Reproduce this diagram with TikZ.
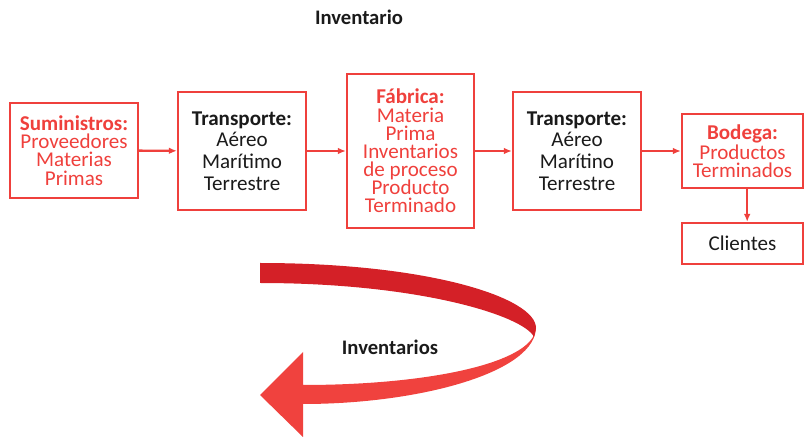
\documentclass[tikz,border=0pt]{standalone}
\usepackage{fontspec}
\setmainfont{Carlito}
\usetikzlibrary{arrows.meta}
\definecolor{boxred}{RGB}{239,64,60}
\definecolor{ribbondark}{RGB}{212,32,39}
\definecolor{ribbonlight}{RGB}{240,66,62}
\definecolor{textblack}{RGB}{26,26,26}

\begin{document}
\begin{tikzpicture}[x=0.75pt,y=0.75pt,yscale=-1,xscale=1,
    redbox/.style={draw=boxred, line width=1.7pt, align=center, inner sep=0pt, text=boxred,
        font=\fontsize{15.8}{13.6}\selectfont},
    blackbox/.style={draw=boxred, line width=1.7pt, align=center, inner sep=0pt, text=textblack,
        font=\fontsize{15.8}{16.2}\selectfont},
    flow/.style={draw=boxred, line width=1.8pt, -{Latex[length=6pt,width=5pt]}}]
        \useasboundingbox (0,0) rectangle (804,438);

        % Text Node
        \node (title) at (359,17) [text=textblack, font=\fontsize{15.5}{18}\selectfont\bfseries] {Inventario};

        %Shape: Rectangle [id:suministros]
        \node (sum) at (74,150.5) [redbox, minimum width=96pt, minimum height=71.25pt]
            {\textbf{Suministros:}\\Proveedores\\Materias\\Primas};
        %Shape: Rectangle [id:transporte1]
        \node (tr1) at (242,151) [blackbox, minimum width=96pt, minimum height=88.5pt]
            {\textbf{Transporte:}\\Aéreo\\Marítimo\\Terrestre};
        %Shape: Rectangle [id:fabrica]
        \node (fab) at (410.5,151) [redbox, minimum width=95.25pt, minimum height=115.5pt]
            {\textbf{Fábrica:}\\Materia\\Prima\\Inventarios\\de proceso\\Producto\\Terminado};
        %Shape: Rectangle [id:transporte2]
        \node (tr2) at (577,151) [blackbox, minimum width=96pt, minimum height=88.5pt]
            {\textbf{Transporte:}\\Aéreo\\Marítino\\Terrestre};
        %Shape: Rectangle [id:bodega]
        \node (bod) at (742.5,151) [redbox, minimum width=90.75pt, minimum height=55.5pt]
            {\textbf{Bodega:}\\Productos\\Terminados};
        %Shape: Rectangle [id:clientes]
        \node (cli) at (742.5,243.5) [blackbox, minimum width=90.75pt, minimum height=30.75pt]
            {Clientes};

        %Straight Lines
        \draw [flow] (sum) -- (tr1);
        \draw [flow] (tr1) -- (fab);
        \draw [flow] (fab) -- (tr2);
        \draw [flow] (tr2) -- (bod);
        \draw [flow] ([xshift=3.5pt]bod.south) -- ([xshift=3.5pt]cli.north);

        %Shape: Curved Arrow, back face
        \fill [ribbonlight] (536,326) .. controls (538,372) and (420,404) .. (303,404) -- (303,437) -- (260,395) -- (303,352) -- (303,385) .. controls (420,385) and (516,366) .. (533,337) -- cycle ;
        %Shape: Curved Arrow, front face
        \fill [ribbondark] (260,263) .. controls (430,263) and (536,298) .. (536,328) -- (534,337) .. controls (524,316) and (420,283) .. (260,283) -- cycle ;

        % Text Node
        \node (inv) at (390,347) [text=textblack, font=\fontsize{15.5}{18}\selectfont\bfseries] {Inventarios};

\end{tikzpicture}
\end{document}
